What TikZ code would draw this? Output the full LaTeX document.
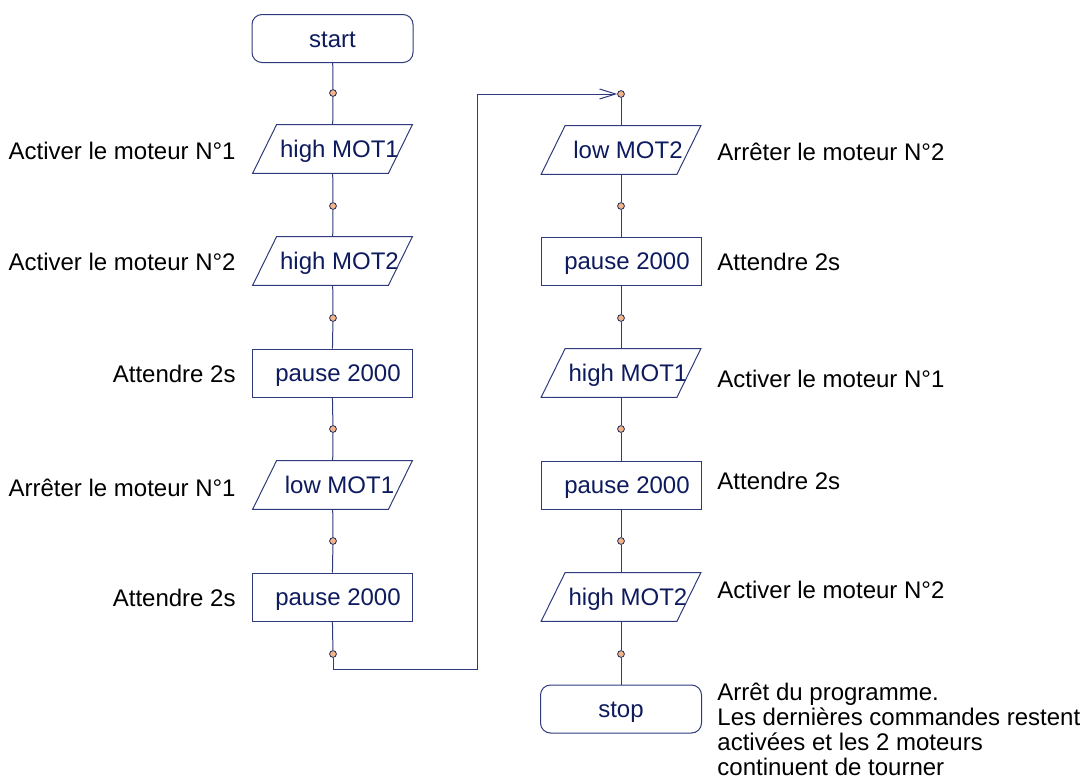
\documentclass[tikz,border=0pt]{standalone}
\usepackage{fontspec}
\setmainfont{Liberation Sans}
\usetikzlibrary{arrows.meta,calc}
\definecolor{ln}{HTML}{2E3A7C}
\definecolor{tx}{HTML}{0D1B5E}
\definecolor{dotc}{HTML}{F3B48A}
\begin{document}
\begin{tikzpicture}[x=0.5pt,y=-0.5pt,
  base/.style={font=\fontsize{12}{12.5}\selectfont},
  inbox/.style={base, text=tx, text height=8.6pt, text depth=0pt, inner sep=0pt},
  term/.style={inbox, draw=ln, rounded corners=5pt, minimum width=80.5pt, minimum height=24pt, line width=0.5pt},
  proc/.style={inbox, draw=ln, minimum width=80pt, minimum height=24pt, line width=0.5pt},
  io/.style={inbox, minimum width=67.5pt, minimum height=24pt},
  lab/.style={base, text=black, inner sep=0pt},
  dotn/.style={circle, draw=ln!70!black, fill=dotc, minimum size=3.4pt, inner sep=0pt, line width=0.4pt},
  wire/.style={draw=ln, line width=0.5pt}]
\useasboundingbox (0,0) rectangle (1082,776);

% left column
\node[term] (start) at (332.5,38.5) {start};
\node[io] (a1) at (332.5,149) {\hspace*{7pt}high MOT1};
\node[io] (a2) at (332.5,261) {\hspace*{7pt}high MOT2};
\node[proc] (a3) at (332,373) {\hspace*{6pt}pause 2000};
\node[io] (a4) at (332.5,485) {\hspace*{7pt}low MOT1};
\node[proc] (a5) at (332,597) {\hspace*{6pt}pause 2000};

% right column
\node[io] (b1) at (621,150) {\hspace*{7pt}low MOT2};
\node[proc] (b2) at (621,261) {\hspace*{6pt}pause 2000};
\node[io] (b3) at (621,373) {\hspace*{7pt}high MOT1};
\node[proc] (b4) at (621,485) {\hspace*{6pt}pause 2000};
\node[io] (b5) at (621,597) {\hspace*{7pt}high MOT2};
\node[term] (stop) at (621,709) {stop};

% parallelograms
\foreach \n in {a1,a2,a4,b1,b3,b5}
  \draw[wire] ($(\n.north west)+(12,0)$) -- ($(\n.north east)+(12,0)$)
    -- ($(\n.south east)+(-12,0)$) -- ($(\n.south west)+(-12,0)$) -- cycle;

% dots
\node[dotn] (da1) at (333,93) {};
\node[dotn] (da2) at (333,206) {};
\node[dotn] (da3) at (333,318) {};
\node[dotn] (da4) at (333,429) {};
\node[dotn] (da5) at (333,541) {};
\node[dotn] (da6) at (333,654) {};
\node[dotn] (db1) at (621,94) {};
\node[dotn] (db2) at (621,206) {};
\node[dotn] (db3) at (621,318) {};
\node[dotn] (db4) at (621,429) {};
\node[dotn] (db5) at (621,541) {};
\node[dotn] (db6) at (621,654) {};
\coordinate (c1) at (477,669);

% connectors
\draw[wire] (start) -- (da1) -- (a1) -- (da2) -- (a2) -- (da3) -- (a3)
  -- (da4) -- (a4) -- (da5) -- (a5) -- (da6);
\draw[wire, -{Straight Barb[length=8pt,width=5pt,line width=0.5pt]}] (da6) |- (c1) |- (db1);
\draw[wire] (db1) -- (b1) -- (db2) -- (b2) -- (db3) -- (b3) -- (db4) -- (b4)
  -- (db5) -- (b5) -- (db6) -- (stop);

% left labels
\node[lab, anchor=east] (la1) at (236,151) {Activer le moteur N°1};
\node[lab, anchor=east] (la2) at (236,262) {Activer le moteur N°2};
\node[lab, anchor=east] (la3) at (236,374) {Attendre 2s};
\node[lab, anchor=east] (la4) at (236,488) {Arrêter le moteur N°1};
\node[lab, anchor=east] (la5) at (236,598) {Attendre 2s};

% right labels
\node[lab, anchor=west] (lb1) at (717,152) {Arrêter le moteur N°2};
\node[lab, anchor=west] (lb2) at (717,262) {Attendre 2s};
\node[lab, anchor=west] (lb3) at (717,379) {Activer le moteur N°1};
\node[lab, anchor=west] (lb4) at (717,481) {Attendre 2s};
\node[lab, anchor=west] (lb5) at (717,590) {Activer le moteur N°2};
\node[lab, anchor=west, align=left] (lb6) at (717,729) {Arrêt du programme.\\Les dernières commandes restent\\activées et les 2 moteurs\\continuent de tourner};
\end{tikzpicture}
\end{document}
